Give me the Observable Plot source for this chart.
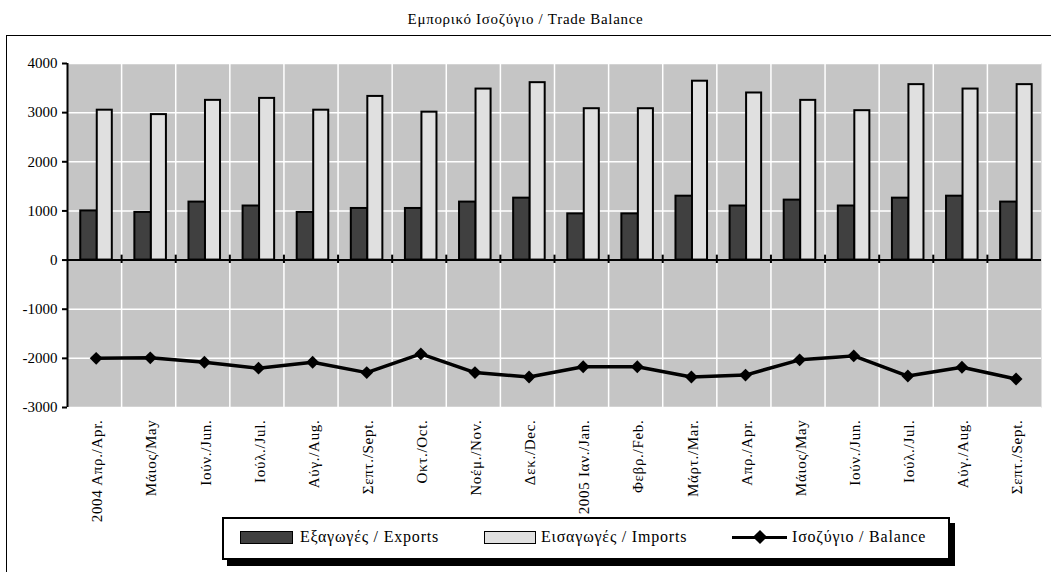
<!DOCTYPE html>
<html>
<head>
<meta charset="utf-8">
<script src="https://cdn.jsdelivr.net/npm/d3@7"></script>
<script src="https://cdn.jsdelivr.net/npm/@observablehq/plot@0.6"></script>
<style>
  html, body { margin: 0; padding: 0; background: #fff; }
  body { width: 1051px; height: 572px; overflow: hidden; position: relative;
         font-family: "Liberation Serif", "Times New Roman", serif; color: #000; }
  #title { position: absolute; left: 0; top: 10px; width: 1051px; text-align: center;
           font-size: 15px; line-height: 18px; letter-spacing: 0.7px; }
  #frame { position: absolute; left: 6px; top: 35px; width: 1100px; height: 600px;
           border: 1px solid #000; box-sizing: border-box; }
  #chart { position: absolute; left: 0; top: 35px; }
  #chart svg [aria-label="x-axis tick label"] text { letter-spacing: 0.7px; }
  #legend { position: absolute; left: 222px; top: 517px; width: 728px; height: 43px;
            border: 2px solid #000; box-sizing: border-box; background: #fff;
            box-shadow: 5px 6px 0 #000; }
  .sw { position: absolute; top: 531px; height: 13px; box-sizing: border-box; border: 1.5px solid #000; }
  .lt { position: absolute; top: 527px; font-size: 16px; line-height: 20px; white-space: nowrap; letter-spacing: 0.8px; }
  #lline { position: absolute; left: 732px; top: 536px; width: 55px; height: 3px; background: #000; }
  #ldia { position: absolute; left: 755px; top: 532px; width: 10px; height: 10px; background: #000; transform: rotate(45deg); }
</style>
</head>
<body>
<svg width="0" height="0" style="position:absolute">
  <defs>
    <pattern id="chk" x="0" y="0" width="2" height="2" patternUnits="userSpaceOnUse">
      <rect width="2" height="2" fill="#ffffff"/>
      <rect x="0" y="0" width="1" height="1" fill="#8a8a8a"/>
      <rect x="1" y="1" width="1" height="1" fill="#8a8a8a"/>
    </pattern>
  </defs>
</svg>
<div id="title">Εμπορικό Ισοζύγιο / Trade Balance</div>
<div id="frame"></div>
<div id="chart"></div>
<div id="legend"></div>
<div class="sw" style="left:240px;width:53px;background:#404040"></div>
<div class="lt" style="left:300px">Εξαγωγές / Exports</div>
<div class="sw" style="left:484px;width:52px;background:#e0e0e0"></div>
<div class="lt" style="left:541px">Εισαγωγές / Imports</div>
<div id="lline"></div>
<div id="ldia"></div>
<div class="lt" style="left:792px">Ισοζύγιο / Balance</div>
<script>
// ---- data ----
const months = [
  "2004 Απρ./Apr.", "Μάιος/May", "Ιούν./Jun.", "Ιούλ./Jul.", "Αύγ./Aug.", "Σεπτ./Sept.",
  "Οκτ./Oct.", "Νοέμ./Nov.", "Δεκ./Dec.", "2005 Ιαν./Jan.", "Φεβρ./Feb.", "Μάρτ./Mar.",
  "Απρ./Apr.", "Μάιος/May", "Ιούν./Jun.", "Ιούλ./Jul.", "Αύγ./Aug.", "Σεπτ./Sept."
];
const exportsVals = [1000, 970, 1180, 1100, 970, 1050, 1050, 1180, 1260, 940, 940, 1300, 1100, 1220, 1100, 1260, 1300, 1180];
const importsVals = [3050, 2960, 3250, 3290, 3050, 3330, 3010, 3480, 3610, 3080, 3080, 3640, 3400, 3250, 3040, 3570, 3480, 3570];
const balanceVals = [-2000, -1990, -2080, -2200, -2080, -2290, -1910, -2290, -2380, -2170, -2170, -2380, -2340, -2030, -1950, -2360, -2180, -2420];
const yTicks = [-3000, -2000, -1000, 0, 1000, 2000, 3000, 4000];

// ---- table built from arrays ----
const data = months.map((m, i) => ({ i, month: m, exp: exportsVals[i], imp: importsVals[i], bal: balanceVals[i] }));
const bounds = d3.range(1, months.length);       // category boundaries
const centers = d3.range(months.length).map(i => i + 0.5);

const chart = Plot.plot({
  width: 1051,
  height: 500,
  marginLeft: 67,
  marginRight: 10,
  marginTop: 28,
  marginBottom: 128,
  style: { fontFamily: "Liberation Serif, 'Times New Roman', serif", fontSize: "15px", color: "#000", background: "transparent", overflow: "visible" },
  x: { type: "linear", domain: [0, months.length], axis: null },
  y: { domain: [-3000, 4000], axis: null },
  marks: [
    Plot.frame({ fill: "url(#chk)", stroke: null }),
    Plot.ruleY(yTicks, { stroke: "#fff", strokeWidth: 1.5 }),
    Plot.ruleX(bounds, { stroke: "#fff", strokeWidth: 1.5 }),
    Plot.rectY(data, { x1: d => d.i + 0.245, x2: d => d.i + 0.55, y1: 0, y2: "exp", fill: "#404040", stroke: "#000", strokeWidth: 2 }),
    Plot.rectY(data, { x1: d => d.i + 0.55, x2: d => d.i + 0.828, y1: 0, y2: "imp", fill: "#e0e0e0", stroke: "#000", strokeWidth: 2 }),
    Plot.ruleY([0], { stroke: "#000", strokeWidth: 2 }),
    Plot.ruleX(bounds, { y1: -70, y2: 100, stroke: "#000", strokeWidth: 2 }),
    Plot.line(data, { x: d => d.i + 0.53, y: "bal", stroke: "#000", strokeWidth: 3.5 }),
    Plot.dot(data, { x: d => d.i + 0.53, y: "bal", symbol: "diamond2", r: 5.8, fill: "#000", stroke: null }),
    Plot.ruleX([0], { y1: -3000, y2: 4000, stroke: "#000", strokeWidth: 2 }),
    Plot.axisY(yTicks, { tickSize: 5, tickPadding: 5, strokeWidth: 2, fontSize: 15, tickFormat: d => String(d) }),
    Plot.axisX(centers, { anchor: "bottom", tickSize: 0, tickPadding: 12, tickRotate: -90, fontSize: 15, dx: 3,
                          tickFormat: d => months[Math.floor(d)] })
  ]
});
document.getElementById("chart").appendChild(chart);
</script>
</body>
</html>
